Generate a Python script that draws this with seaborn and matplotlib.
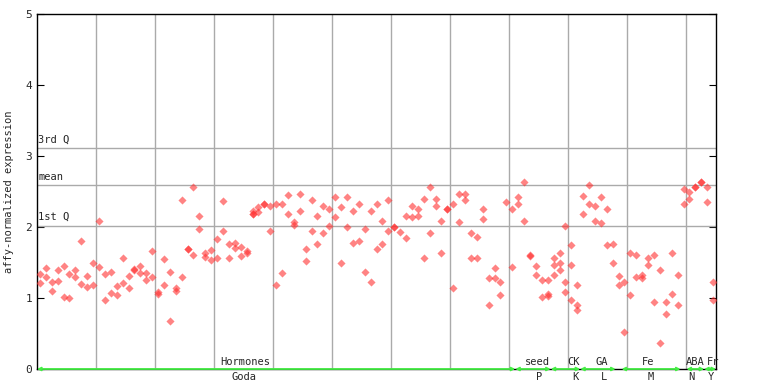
import pandas as pd
import matplotlib
matplotlib.use("Agg")
import matplotlib.pyplot as plt
import matplotlib.transforms as mtransforms
import seaborn as sns

# replicate values per sample (sample index = list position)
expr = [
    [1.34, 1.21], [1.42, 1.29], [1.23, 1.10], [1.40, 1.24], [1.45, 1.02],
    [1.34, 1.00], [1.40, 1.29], [1.80, 1.20], [1.31, 1.15], [1.49, 1.18],
    [2.08, 1.43], [1.34, 0.97], [1.36, 1.07], [1.17, 1.04], [1.57, 1.21],
    [1.31, 1.14], [1.41, 1.40], [1.45, 1.35], [1.35, 1.25], [1.66, 1.29],
    [1.08, 1.06], [1.55, 1.18], [1.37, 0.67], [1.14, 1.10], [2.38, 1.29],
    [1.69, 1.69], [2.56, 1.61], [2.16, 1.97], [1.64, 1.58], [1.68, 1.53],
    [1.83, 1.57], [2.36, 1.94], [1.76, 1.57], [1.78, 1.70], [1.72, 1.59],
    [1.66, 1.63], [2.23, 2.19, 2.19], [2.28, 2.21], [2.32, 2.32], [2.30, 1.94],
    [2.32, 1.19], [2.32, 1.35], [2.45, 2.19], [2.07, 2.03], [2.46, 2.23],
    [1.69, 1.52], [2.38, 1.95], [2.15, 1.76], [2.29, 1.91], [2.26, 2.02],
    [2.42, 2.14], [2.28, 1.49], [2.42, 2.00], [2.22, 1.78], [2.32, 1.80],
    [1.97, 1.36], [2.23, 1.22], [2.32, 1.69], [2.08, 1.76], [2.38, 1.94],
    [2.00, 2.00], [1.93], [2.16, 1.84], [2.29, 2.14], [2.26, 2.16],
    [2.40, 1.57], [2.56, 1.91], [2.40, 2.30], [2.08, 1.63], [2.25, 2.25],
    [2.32, 1.14], [2.47, 2.07], [2.46, 2.38], [1.92, 1.57], [1.86, 1.57],
    [2.25, 2.11], [1.28, 0.90], [1.42, 1.28], [1.22, 1.04], [2.35],
    [2.25, 1.43], [2.42, 2.32], [2.64, 2.09], [1.61, 1.59], [1.45, 1.32],
    [1.25, 1.02], [1.26, 1.05, 1.03], [1.57, 1.46, 1.32], [1.63, 1.49, 1.39],
    [2.01, 1.23, 1.09], [1.74, 1.46, 0.97], [1.19, 0.90, 0.83],
    [2.43, 2.19], [2.59, 2.32], [2.30, 2.09], [2.42, 2.05], [2.26, 1.74],
    [1.76, 1.49], [1.31, 1.18], [1.23, 0.52], [1.64, 1.04], [1.61, 1.29],
    [1.33, 1.28], [1.57, 1.46], [1.60, 0.95], [1.39, 0.36], [0.94, 0.78],
    [1.63, 1.05], [1.32, 0.90], [2.54, 2.32], [2.50, 2.39], [2.56, 2.56],
    [2.64, 2.64], [2.57, 2.35], [1.22, 0.97],
]

# summary lines
stat_names = ["1st Q", "mean", "3rd Q"]
stat_values = [2.02, 2.59, 3.11]

# experiment groups along the bottom
group_top = ["Hormones", "seed", "CK", "GA", "Fe", "ABA", "Fr"]
group_bottom = ["Goda", "P", "K", "L", "M", "N", "Y"]
group_first = [0, 81, 87, 92, 99, 110, 113]
group_last = [80, 86, 91, 97, 108, 112, 114]
label_top_x = [34.8, 84.2, 90.3, 95.1, 103.0, 111.0, 114.0]
label_bottom_x = [34.5, 84.5, 90.6, 95.5, 103.4, 110.4, 113.6]

rows = [(i, v) for i, vals in enumerate(expr) for v in vals]
df = pd.DataFrame(rows, columns=["sample", "value"])

sns.set_style("white")
plt.rcParams["font.family"] = ["DejaVu Sans Mono"]

fig = plt.figure(figsize=(7.68, 3.84), dpi=100)
ax = fig.add_axes([37 / 768, 15 / 384, 679 / 768, 355 / 384])

n = len(expr)
for g in range(10, n, 10):
    ax.axvline(g - 0.5, color="#aaaaaa", lw=1, zorder=1)
for name, val in zip(stat_names, stat_values):
    ax.axhline(val, color="#aaaaaa", lw=1, zorder=1)
    ax.text(-0.3, val + 0.05, name, fontsize=7.5, ha="left", va="bottom")

sns.scatterplot(data=df, x="sample", y="value", marker="D", s=17,
                color="#ff3030", alpha=0.6, linewidth=0, ax=ax, zorder=3)

ax.set_xlim(-0.5, n - 0.5)
ax.set_ylim(0, 5)
ax.set_xticks([])
ax.set_yticks(range(6))
ax.tick_params(axis="y", direction="in", length=5, labelsize=8,
               right=True, left=True, color="black")
ax.set_xlabel("")
ax.set_ylabel("affy-normalized expression", fontsize=7.5, labelpad=8)
for s in ax.spines.values():
    s.set_color("black")
    s.set_linewidth(1)

trans = mtransforms.blended_transform_factory(ax.transData, ax.transAxes)
for a, b in zip(group_first, group_last):
    ax.annotate("", xy=(b + 0.5, 0), xytext=(a - 0.5, 0),
                arrowprops=dict(arrowstyle="<->", color="#44ee44", lw=1.3,
                                mutation_scale=5, shrinkA=0, shrinkB=0),
                annotation_clip=False, zorder=5)
for t, x in zip(group_top, label_top_x):
    ax.text(x, 0.02, t, transform=trans, fontsize=7.5, ha="center",
            va="center")
for t, x in zip(group_bottom, label_bottom_x):
    ax.text(x, -0.023, t, transform=trans, fontsize=7.5, ha="center",
            va="center", clip_on=False)

fig.savefig("out.png", dpi=100)
